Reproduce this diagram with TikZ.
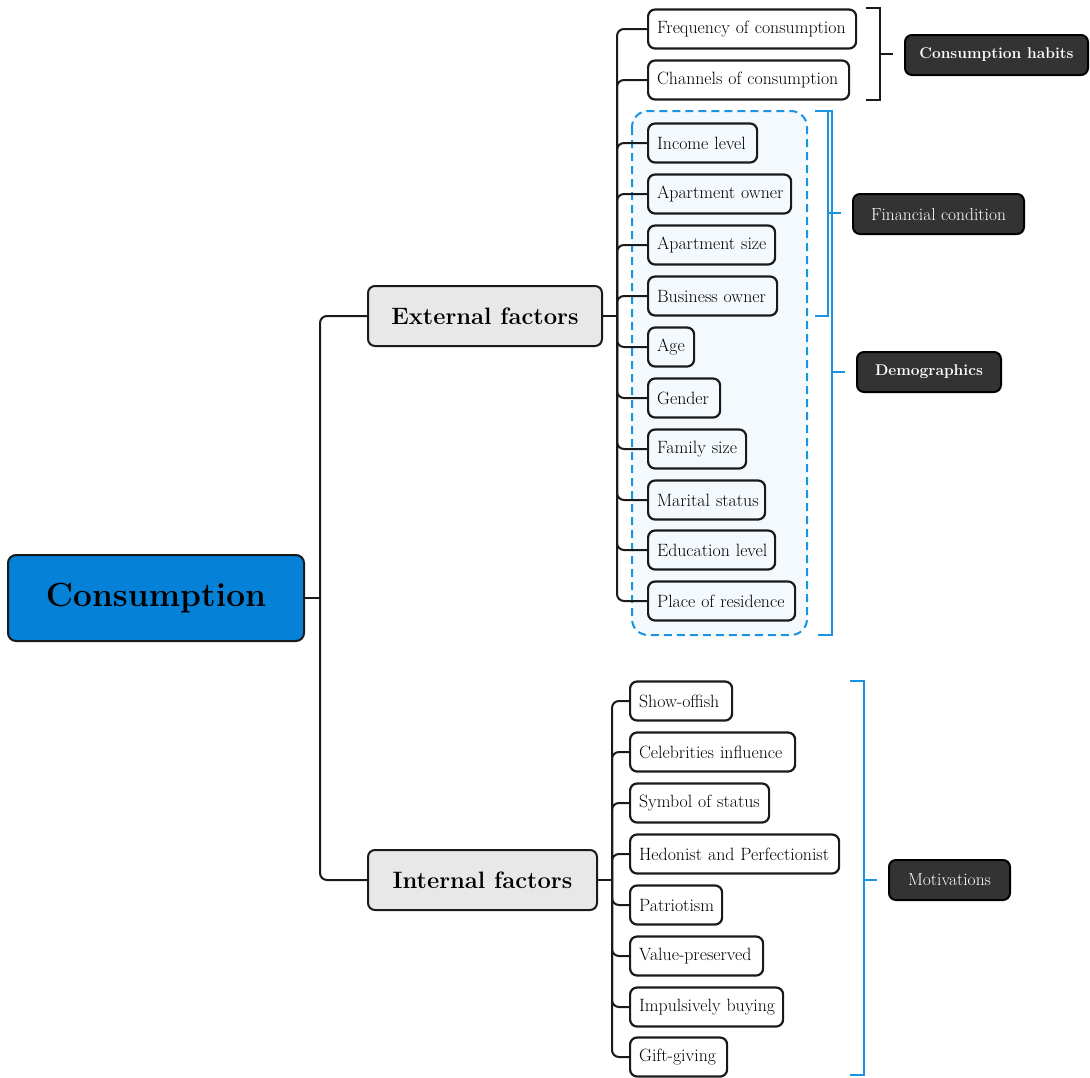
\documentclass[tikz,border=0pt]{standalone}
\usepackage{fontspec}
\definecolor{rootblue}{HTML}{0582D8}
\definecolor{midgray}{HTML}{E8E8E8}
\definecolor{darkbox}{HTML}{333333}
\definecolor{edgeline}{HTML}{1A1A1A}
\definecolor{accent}{HTML}{1A94E0}
\definecolor{paleblue}{HTML}{F4F9FE}
\begin{document}
\begin{tikzpicture}[x=1pt,y=-1pt,
  conn/.style={line width=2pt, draw=edgeline, rounded corners=7pt},
  stem/.style={line width=2pt, draw=edgeline},
  rootbox/.style={draw=edgeline, line width=2pt, rounded corners=8pt, fill=rootblue,
    minimum width=296pt, minimum height=86pt, inner sep=0pt,
    font=\fontsize{33.5}{38}\selectfont\bfseries},
  midbox/.style={draw=edgeline, line width=2pt, rounded corners=7pt, fill=midgray,
    minimum height=60pt, minimum width=#1, inner sep=0pt,
    font=\fontsize{23.7}{27}\selectfont\bfseries},
  leaf/.style={draw=edgeline, line width=2.2pt, rounded corners=7pt, fill=white,
    anchor=west, minimum height=39pt, inner xsep=9pt, inner ysep=0pt,
    text width=#1, align=left, font=\fontsize{17.8}{20}\selectfont},
  inleaf/.style={leaf=#1, fill=paleblue},
  tag/.style={draw=black, line width=2pt, rounded corners=7pt, fill=darkbox,
    text=white, minimum height=40pt, minimum width=#1, inner sep=0pt,
    font=\fontsize{17.5}{20}\selectfont},
  boldtag/.style={tag=#1, font=\fontsize{15.5}{18}\selectfont\bfseries},
  blackbrk/.style={line width=2pt, draw=edgeline},
  bluebrk/.style={line width=2.4pt, draw=accent},
]
\useasboundingbox (0,0) rectangle (1090,1077);

% group frame around the demographic items
\draw[accent, line width=2pt, dash pattern=on 8pt off 5pt, fill=paleblue,
      rounded corners=16pt] (632,111) rectangle (807,635);

% main nodes
\node[rootbox] (root) at (156,598) {Consumption};
\node[midbox=234pt] (ext) at (485,316) {External factors};
\node[midbox=229pt] (int) at (482.5,880) {Internal factors};

% external factor leaves
\node[leaf=190pt]   (e1)  at (647,29)  {\mbox{Frequency of consumption}};
\node[leaf=183pt]   (e2)  at (647,80)  {\mbox{Channels of consumption}};
\node[inleaf=91pt]  (e3)  at (647,143) {\mbox{Income level}};
\node[inleaf=125pt] (e4)  at (647,194) {\mbox{Apartment owner}};
\node[inleaf=109pt] (e5)  at (647,245) {\mbox{Apartment size}};
\node[inleaf=111pt] (e6)  at (647,296) {\mbox{Business owner}};
\node[inleaf=28pt]  (e7)  at (647,347) {\mbox{Age}};
\node[inleaf=54pt]  (e8)  at (647,398) {\mbox{Gender}};
\node[inleaf=80pt]  (e9)  at (647,449) {\mbox{Family size}};
\node[inleaf=99pt]  (e10) at (647,500) {\mbox{Marital status}};
\node[inleaf=109pt] (e11) at (647,550) {\mbox{Education level}};
\node[inleaf=129pt] (e12) at (647,601) {\mbox{Place of residence}};

% internal factor leaves
\node[leaf=84pt]  (i1) at (629,701)  {\mbox{Show-offish}};
\node[leaf=147pt] (i2) at (629,752)  {\mbox{Celebrities influence}};
\node[leaf=121pt] (i3) at (629,803)  {\mbox{Symbol of status}};
\node[leaf=191pt] (i4) at (629,854)  {\mbox{Hedonist and Perfectionist}};
\node[leaf=74pt]  (i5) at (629,905)  {\mbox{Patriotism}};
\node[leaf=115pt] (i6) at (629,956)  {\mbox{Value-preserved}};
\node[leaf=135pt] (i7) at (629,1007) {\mbox{Impulsively buying}};
\node[leaf=79pt]  (i8) at (629,1057) {\mbox{Gift-giving}};

% category tags
\node[boldtag=183pt] (habits) at (996.5,55) {Consumption habits};
\node[tag=171pt] (finance) at (938.5,214) {Financial condition};
\node[boldtag=144pt] (demo) at (929,372) {Demographics};
\node[tag=121pt] (motiv) at (949.5,880) {Motivations};

% trunk lines
\coordinate (rbus) at (320,598);
\coordinate (ebus) at (617,316);
\coordinate (ibus) at (612,880);
\draw[stem] (root.east) -- (rbus);
\draw[conn] (rbus) |- (ext.west);
\draw[conn] (rbus) |- (int.west);
\draw[stem] (ext.east) -- (ebus);
\foreach \n in {e1,e2,e3,e4,e5,e6,e7,e8,e9,e10,e11,e12}
  \draw[conn] (ebus) |- (\n.west);
\draw[stem] (int.east) -- (ibus);
\foreach \n in {i1,i2,i3,i4,i5,i6,i7,i8}
  \draw[conn] (ibus) |- (\n.west);

% brackets grouping the leaves
\draw[blackbrk] (866,8) -- (880,8) -- (880,100) -- (866,100);
\draw[blackbrk] (880,54) -- (893,54);
\draw[bluebrk] (815,111) -- (828,111) -- (828,316) -- (815,316);
\draw[bluebrk] (828,213) -- (841,213);
\draw[bluebrk] (818,111) -- (832,111) -- (832,635) -- (818,635);
\draw[bluebrk] (832,372) -- (845,372);
\draw[bluebrk] (850,681) -- (864,681) -- (864,1075) -- (850,1075);
\draw[bluebrk] (864,880) -- (877,880);
\end{tikzpicture}
\end{document}
